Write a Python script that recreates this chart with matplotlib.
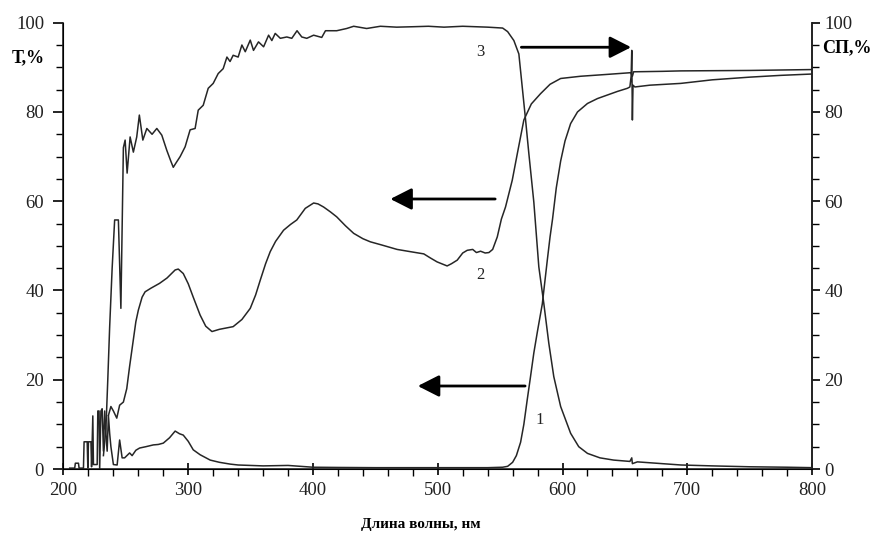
import matplotlib
matplotlib.use('Agg')
import matplotlib.pyplot as plt
from matplotlib.ticker import MultipleLocator

plt.rcParams['font.family'] = ['Liberation Serif', 'DejaVu Serif']

# Curve 1 (bottom at short wavelengths, rises after 560 nm)
wl1 = [205, 209, 209.5, 212, 212.5, 216, 216.5, 219, 219.5, 220, 222, 222.5, 223.5, 224,
       227, 227.5, 228.5, 229, 230, 231, 232, 233, 234, 235, 236, 237, 238, 240, 243, 245,
       247, 249, 253, 255, 258, 261, 266, 272, 276, 280, 285, 289.5, 293, 296, 300, 304,
       309.5, 317.6, 325, 333.6, 340, 350, 360, 380, 390, 400, 420, 450, 500, 540, 552,
       556, 560, 563, 566.4, 569, 571.7, 574, 577, 580, 583.8, 587.8, 590, 592, 595, 598.5,
       602, 606.5, 612, 620, 628, 636, 644, 652, 654, 655, 655.5, 656, 656.5, 658, 670,
       694.8, 720, 750, 775, 800]
t1 = [0.2, 0.2, 1.3, 1.3, 0.2, 0.2, 6.1, 6.1, 0.3, 6.1, 6.1, 0.5, 11.9, 1.0,
      1.0, 13.0, 13.0, 0.0, 13.0, 13.5, 4.0, 13.0, 8.0, 4.0, 12.0, 8.0, 5.0, 1.0, 0.9, 6.5,
      2.5, 2.5, 3.6, 3.0, 4.2, 4.7, 5.0, 5.4, 5.5, 5.8, 7.0, 8.5, 7.9, 7.6, 6.2, 4.3,
      3.2, 2.0, 1.5, 1.1, 0.9, 0.8, 0.7, 0.8, 0.6, 0.4, 0.35, 0.3, 0.3, 0.3, 0.4,
      0.6, 1.5, 3.0, 6.0, 10.0, 15.5, 20.0, 26.0, 31.0, 37.0, 46.8, 52.0, 56.0, 63.0, 69.0,
      73.5, 77.4, 80.0, 81.9, 83.0, 83.8, 84.6, 85.3, 85.6, 88.0, 93.8, 78.2, 86.0, 85.6, 86.0,
      86.4, 87.2, 87.8, 88.2, 88.5]

# Curve 2 (middle)
wl2 = [236, 238, 240, 242.7, 245, 248, 250.7, 253, 256, 258, 260, 263, 265.4, 270, 277,
       283, 289.5, 292, 296, 300, 304, 309.5, 314, 319, 325, 336, 343, 349.7, 354, 357.7,
       362, 365.7, 370, 376.4, 382, 387, 393.8, 400.5, 404, 408.5, 414, 419, 426, 432.6,
       440, 446, 455, 467.4, 478, 488.8, 494, 499.5, 507.5, 511, 515.6, 520, 523.6, 528,
       531, 534.3, 538, 541, 544, 547.7, 551, 554.3, 559.7, 564, 569, 575, 582.4, 590,
       598.5, 614.5, 635, 654.7, 656, 657, 680, 694.8, 750, 800]
t2 = [12.0, 14.0, 13.0, 11.4, 14.3, 15.0, 18.0, 23.0, 29.0, 33.0, 35.6, 38.5, 39.7, 40.5, 41.6,
      42.8, 44.6, 44.8, 43.8, 41.5, 38.5, 34.5, 32.0, 30.8, 31.3, 31.9, 33.5, 36.0, 39.0, 42.3,
      46.0, 48.7, 51.0, 53.5, 54.8, 55.8, 58.4, 59.6, 59.4, 58.7, 57.6, 56.5, 54.5, 52.8,
      51.6, 50.9, 50.2, 49.2, 48.7, 48.2, 47.3, 46.4, 45.5, 46.0, 46.8, 48.4, 49.0, 49.2,
      48.5, 48.8, 48.4, 48.5, 49.2, 52.0, 56.0, 58.7, 64.7, 71.0, 78.2, 81.8, 84.1, 86.2,
      87.5, 88.0, 88.4, 88.8, 88.0, 89.0, 89.1, 89.2, 89.3, 89.5]

# Curve 3 (top)
wl3 = [232, 234, 235.5, 237, 239, 241, 244, 246, 248, 249.4, 251, 253.4, 256, 258.7, 260.8,
       263.6, 266.8, 271, 274.8, 278.8, 282.8, 286, 288, 290, 293.5, 297.5, 301.5, 305.5,
       308, 312, 316, 320, 324, 328, 331, 333.5, 336, 340, 343, 345.7, 349.7, 352.3, 356.3,
       360.4, 364.4, 367, 369.7, 373.8, 379, 383, 387.2, 391, 395, 400.5, 407, 410, 419,
       427, 432.6, 443, 454, 467, 480.7, 492.5, 505, 520, 540, 552, 556, 561, 565, 567.7,
       570.4, 573, 577, 581, 585, 589, 593, 598.5, 606.5, 613, 620, 630, 641, 654, 655.5,
       656, 660, 680, 695, 720, 750, 780, 800]
t3 = [3.0, 9.0, 20.0, 31.8, 45.0, 55.8, 55.8, 36.0, 72.0, 73.7, 66.3, 74.4, 71.0, 74.4, 79.3,
      73.7, 76.3, 75.0, 76.3, 74.8, 71.4, 69.0, 67.6, 68.5, 70.0, 72.2, 76.0, 76.3,
      80.4, 81.5, 85.3, 86.4, 88.6, 89.7, 92.3, 91.3, 92.7, 92.3, 95.0, 93.5, 96.1, 93.8, 95.7,
      94.6, 97.2, 96.0, 97.6, 96.5, 96.8, 96.5, 98.2, 96.8, 96.5, 97.2, 96.7, 98.2, 98.2,
      98.7, 99.2, 98.7, 99.2, 99.0, 99.1, 99.2, 99.0, 99.2, 99.0, 98.8, 98.0, 96.0, 93.0, 85.6,
      78.2, 70.7, 59.8, 45.3, 37.1, 28.2, 20.7, 14.0, 8.0, 5.0, 3.5, 2.5, 2.0, 1.7, 2.5,
      1.2, 1.6, 1.2, 0.9, 0.7, 0.5, 0.4, 0.3]

curve_labels = ['1', '2', '3']
label_pos = [(582, 11), (534, 43.5), (534, 93.5)]
# arrows: (start wavelength, end wavelength, level)
arrows = [(567, 655, 94.5), (546, 462, 60.5), (570, 484, 18.6)]

fig = plt.figure(figsize=(8.71, 5.34), dpi=100)
ax = fig.add_axes([0.0729, 0.1217, 0.8594, 0.8358])

line_kw = dict(color='#262626', lw=1.1)
ax.plot(wl1, t1, **line_kw)
ax.plot(wl2, t2, **line_kw)
ax.plot(wl3, t3, **line_kw)

for lab, (x, y) in zip(curve_labels, label_pos):
    ax.text(x, y, lab, fontsize=12, ha='center', va='center', color='#222')

for x0, x1, y in arrows:
    ax.annotate('', xy=(x1, y), xytext=(x0, y),
                arrowprops=dict(arrowstyle='-|>,head_length=0.65,head_width=0.33',
                                mutation_scale=20, lw=2, color='black',
                                shrinkA=0, shrinkB=0))

ax.set_xlim(200, 800)
ax.set_ylim(0, 100)
ax.xaxis.set_major_locator(MultipleLocator(100))
ax.xaxis.set_minor_locator(MultipleLocator(20))
ax.yaxis.set_major_locator(MultipleLocator(20))
ax.yaxis.set_minor_locator(MultipleLocator(5))
ax.tick_params(axis='x', which='major', direction='inout', length=9, width=1.2,
               labelsize=13.5, pad=5, labelcolor='#222')
ax.tick_params(axis='x', which='minor', direction='out', length=5, width=1)
ax.tick_params(axis='y', which='major', direction='out', length=7, width=1.2,
               labelsize=13.5, pad=7, labelcolor='#222')
ax.tick_params(axis='y', which='minor', direction='out', length=5, width=1)
ax.spines['top'].set_visible(False)
for s in ('left', 'bottom', 'right'):
    ax.spines[s].set_linewidth(1.2)
    ax.spines[s].set_color('#222')

ax2 = ax.twinx()
ax2.set_ylim(0, 100)
ax2.yaxis.set_major_locator(MultipleLocator(20))
ax2.yaxis.set_minor_locator(MultipleLocator(5))
ax2.tick_params(axis='y', which='major', direction='out', length=6, width=1.2,
                labelsize=13.5, pad=3, labelcolor='#222')
ax2.tick_params(axis='y', which='minor', direction='out', length=5, width=1)
ax2.spines['top'].set_visible(False)
ax2.spines['right'].set_linewidth(1.2)
ax2.spines['right'].set_color('#222')

fig.text(0.032, 0.891, 'T,%', fontsize=13, fontweight='bold', ha='center', va='center')
fig.text(0.972, 0.910, 'СП,%', fontsize=13, fontweight='bold', ha='center', va='center')
fig.text(0.483, 0.017, 'Длина волны, нм', fontsize=11, fontweight='bold',
         ha='center', va='center')

fig.savefig('out.png', dpi=100, facecolor='white')
